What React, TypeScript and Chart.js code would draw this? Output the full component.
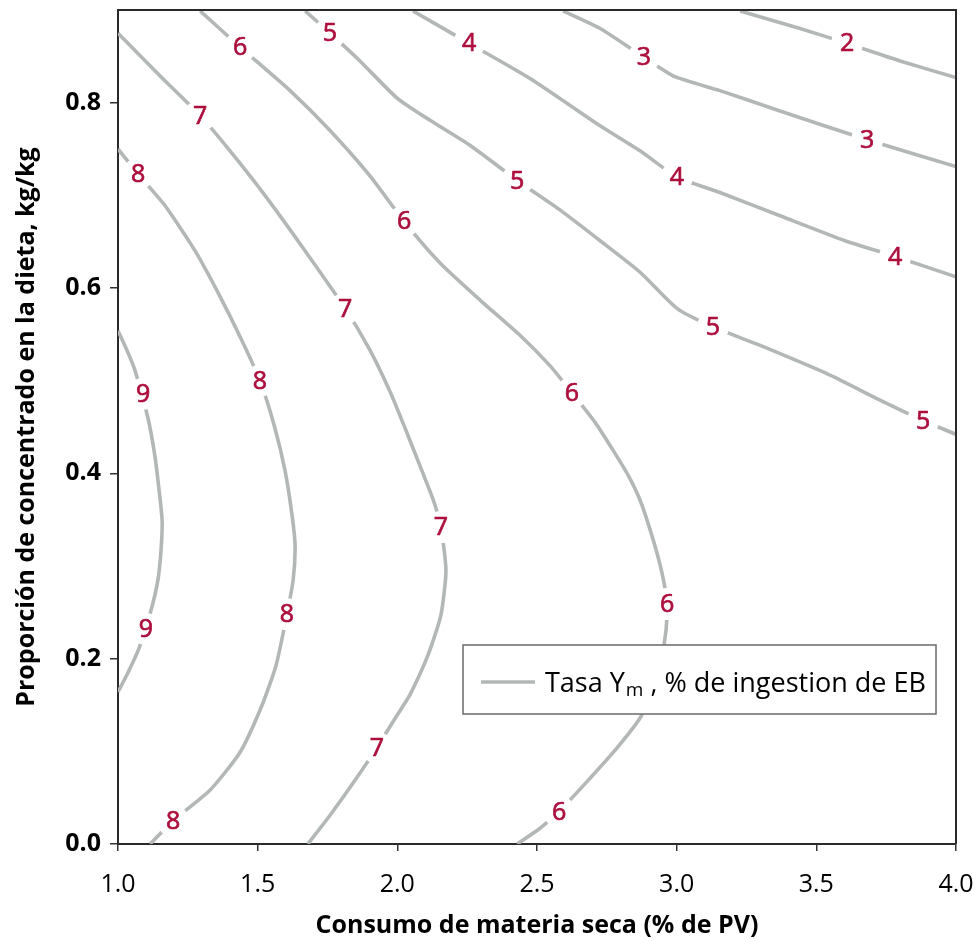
import { useEffect, useRef } from 'react';
import { Chart, registerables } from 'chart.js';

Chart.register(...registerables);

// Axis ranges and tick labels
const xRange = [1.0, 4.0];
const yRange = [0.0, 0.9];
const xTicks = [1.0, 1.5, 2.0, 2.5, 3.0, 3.5, 4.0];
const yTicks = [0.0, 0.2, 0.4, 0.6, 0.8];

const xTitle = 'Consumo de materia seca (% de PV)';
const yTitle = 'Proporción de concentrado en la dieta, kg/kg';
const legendMain = 'Tasa Y';
const legendSub = 'm';
const legendRest = ' , % de ingestion de EB';

// Contour levels (Ym rate) and their traced paths [x, y]
const contourLevels = [9, 8, 7, 6, 5, 4, 3, 2];

const contour9 = [
  [1.0, 0.554], [1.036, 0.53], [1.061, 0.511], [1.107, 0.46], [1.132, 0.419], [1.147, 0.382],
  [1.158, 0.349], [1.154, 0.317], [1.143, 0.285], [1.118, 0.252], [1.075, 0.211], [1.036, 0.185], [1.0, 0.164],
];
const contour8 = [
  [1.0, 0.75], [1.072, 0.723], [1.168, 0.689], [1.276, 0.64], [1.365, 0.591], [1.444, 0.543], [1.508, 0.5],
  [1.559, 0.452], [1.598, 0.403], [1.623, 0.355], [1.634, 0.322], [1.627, 0.285], [1.605, 0.248], [1.566, 0.193],
  [1.516, 0.15], [1.437, 0.099], [1.329, 0.058], [1.197, 0.025], [1.115, 0.0],
];
const contour7 = [
  [1.0, 0.875], [1.15, 0.829], [1.294, 0.786], [1.401, 0.748], [1.526, 0.7], [1.67, 0.64], [1.813, 0.578],
  [1.902, 0.533], [1.974, 0.488], [2.03, 0.447], [2.085, 0.405], [2.13, 0.37], [2.156, 0.342], [2.174, 0.295],
  [2.156, 0.247], [2.11, 0.204], [2.045, 0.161], [1.999, 0.139], [1.927, 0.104], [1.849, 0.069], [1.759, 0.031],
  [1.68, 0.0],
];
const contour6 = [
  [1.294, 0.899], [1.437, 0.86], [1.616, 0.813], [1.759, 0.77], [1.902, 0.721], [2.024, 0.672], [2.153, 0.627],
  [2.296, 0.587], [2.439, 0.549], [2.547, 0.516], [2.625, 0.487], [2.708, 0.455], [2.772, 0.425], [2.826, 0.398],
  [2.869, 0.371], [2.905, 0.339], [2.94, 0.302], [2.962, 0.269], [2.966, 0.248], [2.955, 0.215], [2.923, 0.171],
  [2.869, 0.136], [2.779, 0.101], [2.69, 0.071], [2.579, 0.035], [2.511, 0.017], [2.429, 0.0],
];
const contour5 = [
  [1.67, 0.899], [1.759, 0.875], [1.866, 0.845], [1.999, 0.805], [2.117, 0.781], [2.26, 0.754], [2.429, 0.716],
  [2.583, 0.684], [2.726, 0.651], [2.869, 0.617], [3.001, 0.578], [3.13, 0.558], [3.299, 0.538], [3.549, 0.506],
  [3.728, 0.479], [3.882, 0.457], [4.0, 0.442],
];
const contour4 = [
  [2.056, 0.899], [2.257, 0.864], [2.475, 0.826], [2.726, 0.775], [2.869, 0.748], [3.001, 0.72], [3.155, 0.703],
  [3.37, 0.678], [3.603, 0.651], [3.782, 0.634], [4.0, 0.612],
];
const contour3 = [
  [2.593, 0.899], [2.726, 0.88], [2.883, 0.849], [2.994, 0.828], [3.155, 0.813], [3.37, 0.791], [3.682, 0.76], [4.0, 0.731],
];
const contour2 = [
  [3.227, 0.899], [3.442, 0.88], [3.61, 0.864], [3.8, 0.845], [4.0, 0.827],
];
const contours = [contour9, contour8, contour7, contour6, contour5, contour4, contour3, contour2];

// Inline label positions for each level
const labels9 = [[1.09, 0.486], [1.1, 0.232]];
const labels8 = [[1.072, 0.723], [1.508, 0.5], [1.605, 0.248], [1.197, 0.025]];
const labels7 = [[1.294, 0.786], [1.813, 0.578], [2.156, 0.342], [1.927, 0.104]];
const labels6 = [[1.437, 0.86], [2.024, 0.672], [2.625, 0.487], [2.966, 0.259], [2.579, 0.035]];
const labels5 = [[1.759, 0.875], [2.429, 0.716], [3.13, 0.558], [3.882, 0.457]];
const labels4 = [[2.257, 0.864], [3.001, 0.72], [3.782, 0.634]];
const labels3 = [[2.883, 0.849], [3.682, 0.76]];
const labels2 = [[3.61, 0.864]];
const contourLabels = [labels9, labels8, labels7, labels6, labels5, labels4, labels3, labels2];

const FONT = '"Open Sans", "Noto Sans", "DejaVu Sans", sans-serif';
const LINE_COLOR = '#b3b8b7';
const LABEL_COLOR = '#ad0f3d';

export default function App() {
  const ref = useRef<HTMLCanvasElement>(null);

  useEffect(() => {
    const canvas = ref.current;
    if (!canvas) return;

    const datasets = contours.map((pts, i) => ({
      label: `Ym ${contourLevels[i]}`,
      data: pts.map(([x, y]) => ({ x, y })),
      showLine: true,
      borderColor: LINE_COLOR,
      backgroundColor: LINE_COLOR,
      borderWidth: 3.6,
      pointRadius: 0,
      tension: 0.2,
      fill: false,
    }));

    const contourPlugin = {
      id: 'contourDecor',
      afterDatasetsDraw(chart: any) {
        const { ctx, chartArea, scales } = chart;
        const xs = scales.x;
        const ys = scales.y;
        ctx.save();
        ctx.beginPath();
        ctx.rect(chartArea.left, chartArea.top, chartArea.right - chartArea.left, chartArea.bottom - chartArea.top);
        ctx.clip();
        ctx.font = `25px ${FONT}`;
        ctx.textAlign = 'center';
        ctx.textBaseline = 'middle';
        ctx.lineJoin = 'round';
        contourLabels.forEach((set, i) => {
          set.forEach(([vx, vy]) => {
            const px = xs.getPixelForValue(vx);
            const py = ys.getPixelForValue(vy);
            ctx.fillStyle = '#ffffff';
            ctx.beginPath();
            ctx.arc(px, py, 16, 0, Math.PI * 2);
            ctx.fill();
            ctx.fillStyle = LABEL_COLOR;
            ctx.strokeStyle = LABEL_COLOR;
            ctx.lineWidth = 0.7;
            ctx.fillText(String(contourLevels[i]), px, py + 1);
            ctx.strokeText(String(contourLevels[i]), px, py + 1);
          });
        });
        ctx.restore();
      },
      afterDraw(chart: any) {
        const { ctx, chartArea } = chart;
        ctx.save();
        // frame
        ctx.strokeStyle = '#2a2a2a';
        ctx.lineWidth = 2;
        ctx.beginPath();
        ctx.moveTo(chartArea.left, chartArea.top);
        ctx.lineTo(chartArea.right, chartArea.top);
        ctx.lineTo(chartArea.right, chartArea.bottom);
        ctx.stroke();

        // legend box
        const bw = 473;
        const bh = 69;
        const bx = chartArea.right - 20 - bw;
        const by = chartArea.bottom - 130 - bh;
        ctx.fillStyle = '#ffffff';
        ctx.fillRect(bx, by, bw, bh);
        ctx.strokeStyle = '#6a6a6a';
        ctx.lineWidth = 1.5;
        ctx.strokeRect(bx, by, bw, bh);
        ctx.strokeStyle = LINE_COLOR;
        ctx.lineWidth = 3.6;
        ctx.beginPath();
        ctx.moveTo(bx + 18, by + 37);
        ctx.lineTo(bx + 72, by + 37);
        ctx.stroke();
        ctx.fillStyle = '#000';
        ctx.textAlign = 'left';
        ctx.textBaseline = 'alphabetic';
        let tx = bx + 82;
        const base = by + 47;
        ctx.font = `27px ${FONT}`;
        ctx.fillText(legendMain, tx, base);
        tx += ctx.measureText(legendMain).width + 1;
        ctx.font = `19px ${FONT}`;
        ctx.fillText(legendSub, tx, base + 4);
        tx += ctx.measureText(legendSub).width;
        ctx.font = `27px ${FONT}`;
        ctx.fillText(legendRest, tx, base);
        ctx.restore();
      },
    };

    const chart = new Chart(canvas, {
      type: 'scatter',
      data: { datasets: datasets as any },
      plugins: [contourPlugin as any],
      options: {
        animation: false,
        responsive: false,
        layout: { padding: { top: 10, right: 24, left: 0, bottom: 0 } },
        plugins: { legend: { display: false }, tooltip: { enabled: false } },
        scales: {
          x: {
            type: 'linear',
            min: xRange[0],
            max: xRange[1],
            afterBuildTicks: (s: any) => {
              s.ticks = xTicks.map((v) => ({ value: v }));
            },
            afterFit: (s: any) => {
              s.height = 97;
              s.paddingLeft = 0;
              s.paddingRight = 0;
            },
            ticks: {
              autoSkip: false,
              maxRotation: 0,
              padding: 19,
              color: '#000',
              font: { family: FONT, size: 25 },
              callback: (v: any) => Number(v).toFixed(1),
            },
            grid: { drawOnChartArea: false, drawTicks: true, tickLength: 7, color: '#333', lineWidth: 1.5 },
            border: { color: '#2a2a2a', width: 2 },
            title: {
              display: true,
              text: xTitle,
              color: '#000',
              font: { family: FONT, size: 25, weight: 'bold' },
              padding: { top: 4, bottom: 0 },
            },
          },
          y: {
            type: 'linear',
            min: yRange[0],
            max: yRange[1],
            afterBuildTicks: (s: any) => {
              s.ticks = yTicks.map((v) => ({ value: v }));
            },
            afterFit: (s: any) => {
              s.width = 118;
              s.paddingTop = 0;
              s.paddingBottom = 0;
            },
            ticks: {
              autoSkip: false,
              padding: 9,
              color: '#000',
              font: { family: FONT, size: 25, weight: 'bold' },
              callback: (v: any) => Number(v).toFixed(1),
            },
            grid: { drawOnChartArea: false, drawTicks: true, tickLength: 8, color: '#333', lineWidth: 1.5 },
            border: { color: '#2a2a2a', width: 2 },
            title: {
              display: true,
              text: yTitle,
              color: '#000',
              font: { family: FONT, size: 25, weight: 'bold' },
              padding: { top: 12, bottom: 4 },
            },
          },
        },
      } as any,
    });

    return () => chart.destroy();
  }, []);

  return (
    <div style={{ position: 'absolute', left: 0, top: 0, width: 980, height: 941, background: '#fff' }}>
      <canvas ref={ref} width={980} height={941} style={{ display: 'block' }} />
    </div>
  );
}
